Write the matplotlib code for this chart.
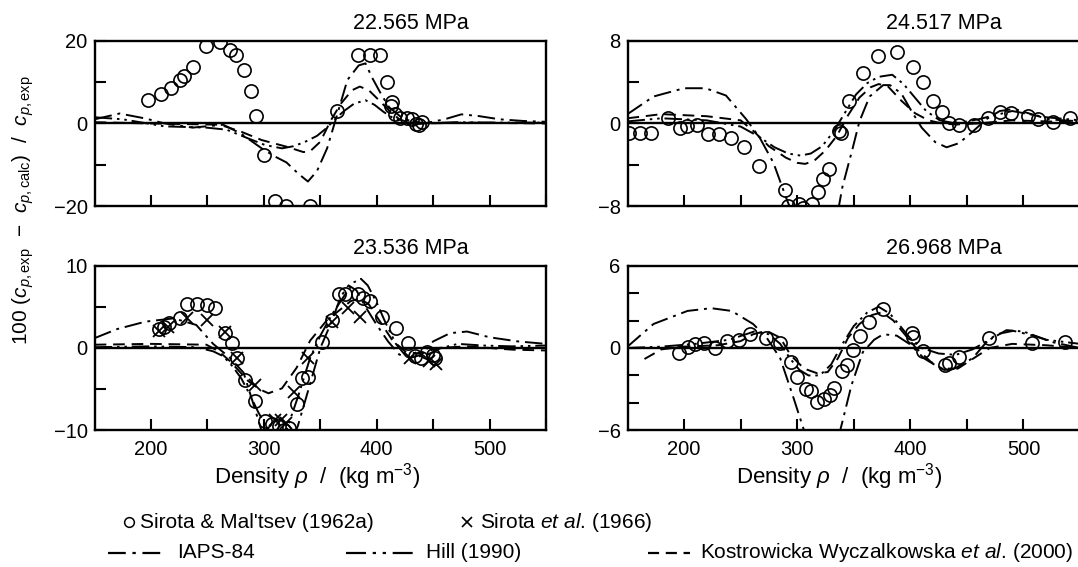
import matplotlib
matplotlib.use("Agg")
import matplotlib.pyplot as plt
from matplotlib.lines import Line2D

plt.rcParams['font.family'] = ['Liberation Sans', 'DejaVu Sans']
plt.rcParams['mathtext.fontset'] = 'custom'
plt.rcParams['mathtext.rm'] = 'Liberation Sans'
plt.rcParams['mathtext.it'] = 'Liberation Sans:italic'

# ---- 22.565 MPa ----
p22_circ_x = [197, 208.6, 217.8, 226, 229, 237.3, 249, 261.2, 269.8, 275, 282, 288.8, 292.7, 300.4,
              309.6, 320, 340.8, 364.7, 383.7, 393.8, 403, 408.8, 413.6, 412.8, 415.8, 420.4, 426.5,
              431, 434.8, 437.2, 440.3]
p22_circ_y = [5.7, 7.0, 8.6, 10.4, 11.4, 13.7, 18.7, 19.7, 17.6, 16.4, 12.9, 7.8, 1.7, -7.7,
              -18.7, -20, -20, 2.9, 16.5, 16.4, 16.4, 10.1, 5.1, 4.3, 2.2, 1.2, 1.4,
              1.0, -0.1, -0.4, 0.4]
p22_iaps_x = [150, 172, 195, 212, 237, 264, 280, 298, 310, 320, 330, 339, 347, 356, 365, 374, 384,
              390, 396, 404, 411, 424, 442, 460, 475, 490, 509, 530, 550]
p22_iaps_y = [1.0, 2.4, 1.2, 0.0, -1.0, -0.3, -2.5, -6.0, -8.0, -9.4, -12.0, -14.0, -11.5, -6.0,
              2.2, 10.5, 14.0, 14.5, 11.0, 7.0, 3.9, 1.0, 0.0, 1.0, 2.2, 1.8, 1.0, 0.6, 0.4]
p22_kw_x = [150, 200, 240, 261, 280, 298, 320, 335, 341, 350, 359, 368, 378, 385, 393, 402, 411,
            420, 433, 442, 480, 550]
p22_kw_y = [0.3, 0.0, -0.2, -0.3, -2.0, -4.0, -5.6, -6.9, -6.7, -4.4, 0.6, 4.7, 8.0, 8.9, 8.0,
            5.6, 3.1, 1.0, -0.2, 0.0, 0.2, 0.0]
p22_hill_x = [150, 175, 212, 249, 267, 286, 301, 316, 326, 336, 347, 356, 362, 371, 380, 390, 398,
              406, 415, 425, 440, 470, 510, 550]
p22_hill_y = [1.5, 1.0, -0.7, -1.0, -1.5, -3.6, -5.2, -6.0, -5.5, -4.5, -3.0, -1.0, 0.8, 3.0, 4.8,
              5.6, 4.5, 2.8, 1.2, 0.3, 0.0, 0.3, 0.2, 0.2]

# ---- 24.517 MPa ----
p24_circ_x = [151.5, 161.2, 171.2, 185.5, 196, 203, 211.2, 221.2, 230.9, 241.5, 252.7, 265.8, 289,
              291.5, 301.2, 305, 312.7, 318.8, 322.4, 328, 337, 338.5, 346, 358, 371.8, 388.5, 402,
              411.2, 420.3, 427.9, 434, 443, 456.7, 468.8, 479.4, 489, 503.6, 512.7, 526.4, 541.5]
p24_circ_y = [-0.93, -0.93, -0.93, 0.57, -0.43, -0.27, -0.1, -1.03, -1.03, -1.37, -2.27, -4.1, -6.4,
              -8.0, -7.8, -8.2, -7.8, -6.6, -5.4, -4.4, -0.77, -0.93, 2.2, 4.9, 6.5, 6.9, 5.4,
              4.0, 2.2, 1.07, 0.07, -0.1, -0.1, 0.57, 1.07, 0.97, 0.73, 0.4, 0.17, 0.5]
p24_iaps_x = [150, 173, 200, 219, 237, 255, 267, 279, 291, 297, 303, 315, 327, 336, 340, 349, 355,
              364, 376, 382, 392, 401, 410, 422, 432, 443, 455, 467, 479, 492, 507, 522, 550]
p24_iaps_y = [0.9, 2.6, 3.4, 3.4, 2.7, 0.4, -1.4, -3.8, -7.4, -9.0, -10.5, -11.5, -10.5, -8.5,
              -6.1, -2.4, 0.2, 2.6, 3.7, 3.7, 2.9, 1.2, -0.4, -1.8, -2.3, -1.9, -0.8, 0.4, 1.2,
              1.4, 0.9, 0.4, 0.2]
p24_kw_x = [150, 180, 220, 250, 262, 275, 290, 300, 307, 315, 325, 335, 345, 355, 365, 372, 380,
            392, 404, 416, 428, 440, 460, 490, 520, 550]
p24_kw_y = [0.5, 0.9, 0.7, 0.3, -0.8, -2.2, -3.3, -3.8, -3.9, -3.6, -2.6, -1.2, 0.8, 2.5, 3.5,
            3.8, 3.6, 2.2, 1.0, 0.3, 0.0, -0.1, 0.0, 0.3, 0.2, 0.1]
p24_hill_x = [150, 180, 220, 250, 265, 280, 292, 303, 312, 322, 332, 342, 352, 362, 372, 384, 394,
              404, 414, 426, 440, 460, 490, 520, 550]
p24_hill_y = [0.2, 0.5, 0.3, -0.3, -1.2, -2.3, -2.9, -3.1, -2.9, -2.2, -0.8, 1.0, 2.8, 3.9, 4.5,
              4.7, 3.8, 2.5, 1.2, 0.3, 0.0, 0.4, 1.2, 0.6, 0.3]

# ---- 23.536 MPa ----
p23_circ_x = [206.7, 211.6, 215.9, 226, 232.1, 240.4, 249.9, 256.6, 265.8, 271.3, 276.5, 283.3,
              292.4, 301, 307.1, 313.3, 317.8, 322.4, 329.2, 334, 339.3, 351.5, 360.7, 366.8,
              372.3, 383.7, 388.2, 394.4, 405, 416.7, 428, 434.2, 439.4, 444.9, 449.5, 451.6]
p23_circ_y = [2.25, 2.5, 3.0, 3.6, 5.3, 5.3, 5.2, 4.9, 1.8, 0.6, -1.2, -3.9,
              -6.4, -8.9, -9.2, -9.5, -9.9, -9.7, -6.8, -3.7, -3.5, 0.7, 3.4, 6.6,
              6.6, 6.6, 6.1, 5.7, 3.8, 2.4, 0.6, -1.0, -1.2, -0.5, -0.8, -1.2]
p23_cross_x = [206.7, 214.7, 232, 249.9, 265.8, 276.5, 291.8, 310.2, 314.8, 319.4, 327, 339.3,
               360.7, 374.5, 385.2, 429.6, 446.4, 452.5]
p23_cross_y = [2.1, 2.6, 3.6, 3.4, 2.0, -1.2, -4.5, -8.8, -8.7, -9.1, -5.3, -1.2,
               3.2, 4.9, 3.8, -1.2, -1.6, -2.0]
p23_iaps_x = [150, 170, 195, 220, 240, 255, 270, 282, 290, 300, 310, 320, 330, 340, 350, 360, 368,
              375, 382, 390, 400, 410, 420, 430, 440, 450, 465, 480, 500, 525, 550]
p23_iaps_y = [1.2, 2.3, 3.2, 3.6, 2.8, 0.5, -1.2, -3.0, -6.5, -11, -13, -12.5, -9.5, -4.8, 0.0,
              3.2, 6.2, 7.6, 7.0, 5.0, 2.8, 0.8, -0.8, -1.2, -0.8, 0.8, 1.8, 2.0, 1.3, 0.8, 0.5]
p23_kw_x = [150, 200, 249, 260, 270, 286, 296, 304, 316, 329, 341, 356, 368, 377, 385, 393, 402,
            414, 426, 439, 454, 480, 520, 550]
p23_kw_y = [0.4, 0.5, 0.4, -0.4, -1.6, -4.0, -5.0, -5.5, -4.9, -2.4, 0.9, 3.4, 4.7, 5.7, 6.0,
            5.3, 3.4, 0.9, -0.5, -0.7, 0.0, 0.2, -0.2, -0.3]
p23_hill_x = [150, 200, 240, 255, 264, 272, 280, 288, 295, 302, 308, 320, 330, 341, 350, 360, 371,
              380, 386, 392, 400, 408, 417, 426, 442, 457, 472, 494, 520, 550]
p23_hill_y = [0.1, 0.2, 0.1, -0.4, -1.0, -2.2, -3.7, -5.8, -7.8, -9.5, -10.5, -10.0, -6.0, -1.2,
              1.5, 4.0, 6.3, 8.0, 8.4, 7.6, 5.5, 3.0, 0.5, -1.0, -1.0, 0.0, 0.5, 0.3, 0.2, 0.3]

# ---- 26.968 MPa ----
p26_circ_x = [195.5, 203.6, 209.7, 217.6, 227.3, 237.9, 248.5, 258.2, 272.7, 284.8, 294.5, 300,
              307.6, 312.1, 317.6, 323.6, 328.8, 332.7, 339.4, 343.9, 349, 355.2, 363.6, 375.8,
              401.5, 402.4, 411.5, 430.3, 434.2, 443, 469.7, 507.6, 536.4]
p26_circ_y = [-0.37, 0.05, 0.3, 0.37, 0.0, 0.5, 0.55, 1.0, 0.75, 0.37, -1.05, -2.1,
              -3.0, -3.1, -3.9, -3.7, -3.4, -2.9, -1.7, -1.25, -0.12, 0.87, 1.87, 2.86,
              1.12, 0.8, -0.25, -1.25, -1.12, -0.62, 0.7, 0.37, 0.45]
p26_iaps_x = [150, 173, 203, 224, 242, 261, 273, 285, 297, 306, 315, 325, 335, 348, 358, 368, 376,
              388, 400, 412, 427, 439, 455, 467, 476, 491, 509, 527, 550]
p26_iaps_y = [0.1, 1.75, 2.7, 2.9, 2.7, 1.75, 0.75, -0.75, -3.7, -6.0, -7.5, -8.0, -7.0, -2.7,
              -0.3, 0.6, 1.0, 0.9, 0.25, -0.75, -1.5, -1.5, -0.75, 0.4, 1.0, 1.25, 0.9, 0.4, 0.0]
p26_kw_x = [165, 180, 200, 230, 250, 261, 273, 285, 294, 306, 318, 327, 336, 345, 355, 366, 375,
            385, 395, 405, 418, 430, 442, 455, 470, 490, 520, 550]
p26_kw_y = [-0.8, -0.1, 0.1, 0.2, 0.5, 1.0, 1.25, 0.75, -0.5, -1.5, -1.85, -1.75, -0.75, 0.75,
            1.75, 2.4, 2.6, 2.0, 1.0, 0.0, -1.0, -1.6, -1.5, -0.8, 0.0, 0.3, 0.2, 0.0]
p26_hill_x = [150, 180, 210, 240, 262, 275, 285, 294, 302, 310, 320, 330, 340, 350, 362, 372, 382,
              392, 400, 410, 425, 440, 455, 470, 485, 500, 520, 550]
p26_hill_y = [0.0, 0.1, 0.3, 0.6, 1.2, 1.0, 0.3, -0.8, -1.6, -2.0, -2.0, -1.2, 0.3, 1.6, 2.6,
              3.0, 2.5, 1.5, 0.7, 0.0, -0.4, -0.5, -0.1, 0.6, 1.3, 1.2, 0.6, 0.3]

# line styles
IAPS_DASH = (9, 3, 1.5, 3)
HILL_DASH = (9, 2.5, 1.3, 2.5, 1.3, 2.5)
KW_DASH = (6, 3.5)
LW = 1.4


def setup_panel(ax, lim, yticks, ylabels, title, show_x):
    ax.set_xlim(150, 550)
    ax.set_ylim(-lim, lim)
    ax.axhline(0, color='k', lw=1.7, zorder=1)
    ax.set_xticks(range(200, 551, 50))
    if show_x:
        ax.set_xticklabels(['200', '', '300', '', '400', '', '500', ''])
    else:
        ax.set_xticklabels([])
    ax.set_yticks(yticks)
    ax.set_yticklabels(ylabels)
    ax.tick_params(direction='in', length=8, width=1.5, labelsize=14.5, pad=5)
    ax.tick_params(axis='x', pad=7)
    for sp in ax.spines.values():
        sp.set_linewidth(1.7)
    ax.text(430, 1.04, title, transform=ax.get_xaxis_transform(),
            ha='center', va='bottom', fontsize=15.5)


def draw_curves(ax, ix, iy, kx, ky, hx, hy):
    ax.plot(ix, iy, color='k', lw=LW, dashes=IAPS_DASH)
    ax.plot(hx, hy, color='k', lw=LW, dashes=HILL_DASH)
    ax.plot(kx, ky, color='k', lw=LW, dashes=KW_DASH)


fig = plt.figure(figsize=(10.78, 5.67), dpi=100)
ax1 = fig.add_axes([0.0878, 0.636, 0.4187, 0.2925])
ax2 = fig.add_axes([0.5821, 0.636, 0.4198, 0.2925])
ax3 = fig.add_axes([0.0878, 0.241, 0.4187, 0.2905])
ax4 = fig.add_axes([0.5821, 0.241, 0.4198, 0.2905])

circ = dict(ls='none', marker='o', ms=9.5, mfc='none', mec='k', mew=1.2, zorder=3)
cross = dict(ls='none', marker='x', ms=9, mec='k', mew=1.3, zorder=3)

setup_panel(ax1, 20, [-20, -10, 0, 10, 20], ['\u221220', '', '0', '', '20'], '22.565 MPa', False)
draw_curves(ax1, p22_iaps_x, p22_iaps_y, p22_kw_x, p22_kw_y, p22_hill_x, p22_hill_y)
ax1.plot(p22_circ_x, p22_circ_y, **circ)

setup_panel(ax2, 8, [-8, -4, 0, 4, 8], ['\u22128', '', '0', '', '8'], '24.517 MPa', False)
draw_curves(ax2, p24_iaps_x, p24_iaps_y, p24_kw_x, p24_kw_y, p24_hill_x, p24_hill_y)
ax2.plot(p24_circ_x, p24_circ_y, **circ)

setup_panel(ax3, 10, [-10, -5, 0, 5, 10], ['\u221210', '', '0', '', '10'], '23.536 MPa', True)
draw_curves(ax3, p23_iaps_x, p23_iaps_y, p23_kw_x, p23_kw_y, p23_hill_x, p23_hill_y)
ax3.plot(p23_circ_x, p23_circ_y, **circ)
ax3.plot(p23_cross_x, p23_cross_y, **cross)

setup_panel(ax4, 6, [-6, -4, -2, 0, 2, 4, 6], ['\u22126', '', '', '0', '', '', '6'], '26.968 MPa', True)
draw_curves(ax4, p26_iaps_x, p26_iaps_y, p26_kw_x, p26_kw_y, p26_hill_x, p26_hill_y)
ax4.plot(p26_circ_x, p26_circ_y, **circ)

# axis labels
fig.text(0.022, 0.63,
         r"100 ($c_{p,\mathrm{exp}}$  $-$  $c_{p,\mathrm{calc}}$)  /  $c_{p,\mathrm{exp}}$",
         rotation=90, ha='center', va='center', fontsize=15)
xlab = r"Density $\rho$  /  (kg m$^{-3}$)"
fig.text(0.294, 0.16, xlab, ha='center', va='center', fontsize=16)
fig.text(0.778, 0.16, xlab, ha='center', va='center', fontsize=16)

# legend drawn by hand
W, H = 1078.0, 567.0
r1 = 1 - 522 / H
r2 = 1 - 553 / H
fs_leg = 15
fig.add_artist(Line2D([129 / W], [r1], transform=fig.transFigure, marker='o', ms=7,
                      mfc='none', mec='k', mew=1.1))
fig.text(140 / W, r1, "Sirota & Mal'tsev (1962a)", ha='left', va='center', fontsize=fs_leg)
fig.add_artist(Line2D([467 / W], [r1], transform=fig.transFigure, marker='x', ms=7,
                      mec='k', mew=1.2))
fig.text(480 / W, r1, r"Sirota $\it{et\ al}$. (1966)", ha='left', va='center', fontsize=fs_leg)

fig.add_artist(Line2D([108 / W, 166 / W], [r2, r2], transform=fig.transFigure, color='k',
                      lw=1.6, dashes=(8, 3, 1.5, 3)))
fig.text(177 / W, r2, "IAPS-84", ha='left', va='center', fontsize=fs_leg)
fig.add_artist(Line2D([346 / W, 414 / W], [r2, r2], transform=fig.transFigure, color='k',
                      lw=1.6, dashes=(9, 3, 1.5, 3, 1.5, 3)))
fig.text(426 / W, r2, "Hill (1990)", ha='left', va='center', fontsize=fs_leg)
fig.add_artist(Line2D([648 / W, 690 / W], [r2, r2], transform=fig.transFigure, color='k',
                      lw=1.6, dashes=(5, 3)))
fig.text(700 / W, r2, r"Kostrowicka Wyczalkowska $\it{et\ al}$. (2000)", ha='left',
         va='center', fontsize=fs_leg)

fig.savefig("out.png", dpi=100)
